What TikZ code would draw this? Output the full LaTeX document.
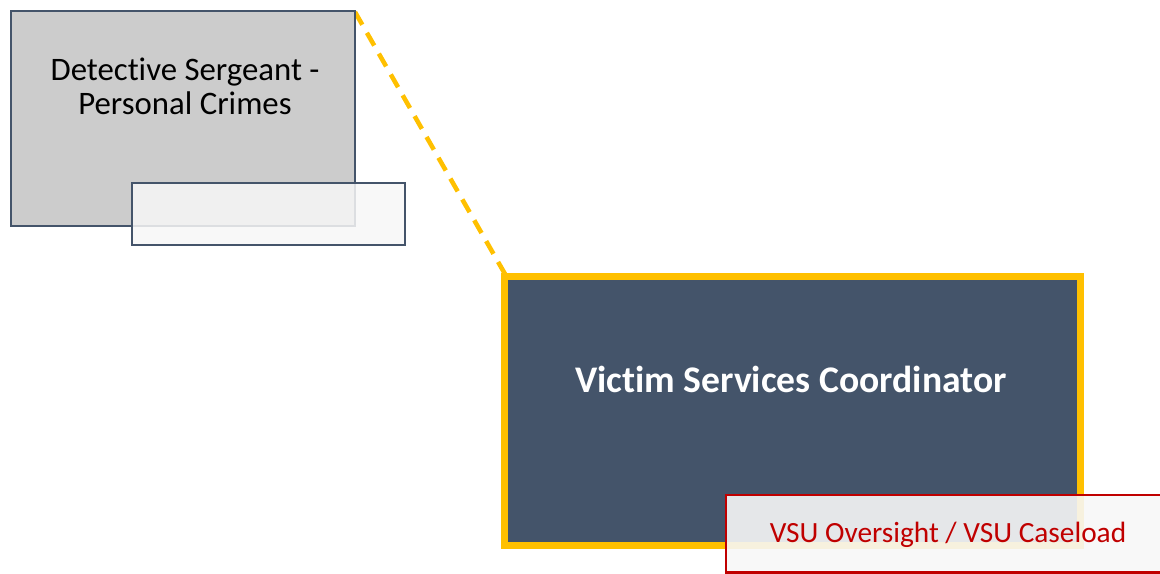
\documentclass[tikz,border=0pt]{standalone}
\usepackage{fontspec}
\setmainfont[Ligatures=NoCommon]{Carlito}
\definecolor{slate}{HTML}{44546A}
\definecolor{boxgrey}{HTML}{CCCCCC}
\definecolor{gold}{HTML}{FFC000}
\definecolor{vsured}{HTML}{C00000}
\definecolor{lblfill}{HTML}{F7F7F7}
\tikzset{
  rolebox/.style={draw=slate, line width=2pt, fill=boxgrey},
  lblbox/.style={draw=slate, line width=1.7pt, fill=lblfill, fill opacity=0.85},
  mainbox/.style={draw=gold, line width=5.2pt, fill=slate},
  redlbl/.style={draw=vsured, line width=2.2pt, fill=lblfill, fill opacity=0.9},
  link/.style={draw=gold, line width=3.4pt, dash pattern=on 11pt off 7pt},
}
\begin{document}
\begin{tikzpicture}[x=0.75pt,y=-0.75pt]
\useasboundingbox (0,0) rectangle (1160,574);
\clip (0,0) rectangle (1160,574);
% dashed connector (drawn first, behind)
\coordinate (ds) at (355,12);
\coordinate (vs) at (505,274);
\draw[link] (ds) -- (vs);
% Detective box
\draw[rolebox] (11,11) rectangle (355,226);
\node[font=\fontsize{24.6}{25.5}\selectfont, align=center, text=black] (det) at (185,86) {Detective Sergeant -\\Personal Crimes};
\draw[lblbox] (132,183) rectangle (405,245);
% Victim services box
\draw[mainbox] (504.5,276.5) rectangle (1080.5,545.5);
\node[font=\fontsize{28.2}{32}\bfseries\selectfont, text=white] (vsc) at (791,379) {Victim Services Coordinator};
\draw[redlbl] (726,495) rectangle (1175,572.5);
\node[font=\fontsize{22}{26}\selectfont, text=vsured] (vsu) at (948,535) {VSU Oversight / VSU Caseload};
\end{tikzpicture}
\end{document}
